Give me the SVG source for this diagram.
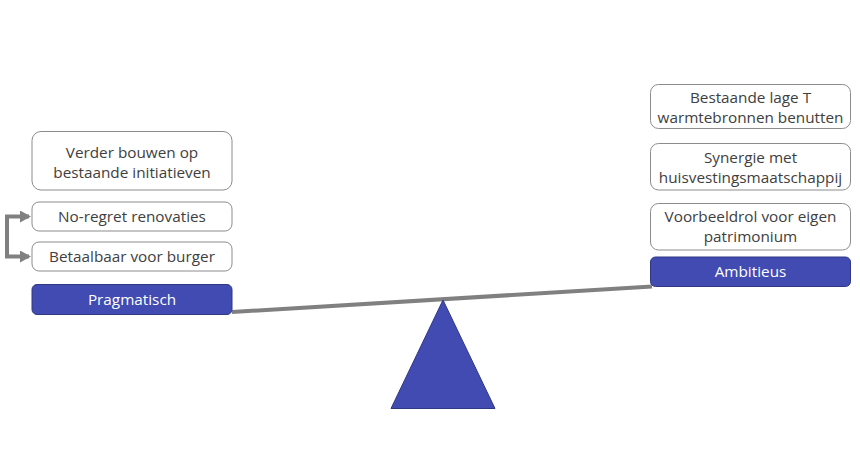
<svg xmlns="http://www.w3.org/2000/svg" width="860" height="455" viewBox="0 0 860 455">
<defs>
<style>
.box{fill:#ffffff;stroke:#8c8c8c;stroke-width:1}
.blue{fill:#414BB2;stroke:#2f3880;stroke-width:1}
.t{font-family:"Open Sans","Noto Sans","Liberation Sans",sans-serif;font-size:15.3px;fill:#404040;text-anchor:middle}
.tw{font-family:"Open Sans","Noto Sans","Liberation Sans",sans-serif;font-size:15.3px;fill:#ffffff;text-anchor:middle}
.conn{fill:none;stroke:#808080;stroke-width:4}
</style>
<marker id="ah" markerWidth="11" markerHeight="12" refX="9" refY="6" orient="auto-start-reverse" markerUnits="userSpaceOnUse">
<path d="M0,0 L11,6 L0,12 Z" fill="#808080"/>
</marker>
</defs>
<rect width="860" height="455" fill="#ffffff"/>
<g id="connectors">
<path class="conn" d="M29,216.5 H7 V256.5 H29" marker-start="url(#ah)" marker-end="url(#ah)"/>
<line x1="232" y1="312" x2="652" y2="286.5" stroke="#808080" stroke-width="4"/>
</g>
<g id="fulcrum">
<polygon points="443,300 495,408.5 391,408.5" fill="#414BB2" stroke="#2f3880" stroke-width="1"/>
</g>
<g id="n-verder">
<rect class="box" x="32" y="131.5" width="200" height="58.5" rx="9"/>
<text class="t" x="132" y="157.5">Verder bouwen op</text>
<text class="t" x="132" y="178">bestaande initiatieven</text>
</g>
<g id="n-noregret">
<rect class="box" x="32" y="202" width="200" height="29" rx="7"/>
<text class="t" x="132" y="221.5">No-regret renovaties</text>
</g>
<g id="n-betaalbaar">
<rect class="box" x="32" y="242" width="200" height="29" rx="7"/>
<text class="t" x="132" y="261.5">Betaalbaar voor burger</text>
</g>
<g id="n-pragmatisch">
<rect class="blue" x="32" y="284.5" width="200" height="30" rx="5"/>
<text class="tw" x="132" y="304.5">Pragmatisch</text>
</g>
<g id="n-bestaande">
<rect class="box" x="650.5" y="84.5" width="200" height="44" rx="8"/>
<text class="t" x="750.5" y="103">Bestaande lage T</text>
<text class="t" x="750.5" y="123">warmtebronnen benutten</text>
</g>
<g id="n-synergie">
<rect class="box" x="650.5" y="143.5" width="200" height="46.5" rx="8"/>
<text class="t" x="750.5" y="162.5">Synergie met</text>
<text class="t" x="750.5" y="183">huisvestingsmaatschappij</text>
</g>
<g id="n-voorbeeldrol">
<rect class="box" x="650.5" y="203.5" width="200" height="46.5" rx="8"/>
<text class="t" x="750.5" y="221.5">Voorbeeldrol voor eigen</text>
<text class="t" x="750.5" y="242">patrimonium</text>
</g>
<g id="n-ambitieus">
<rect class="blue" x="650.5" y="257" width="200" height="29.5" rx="5"/>
<text class="tw" x="750.5" y="276.5">Ambitieus</text>
</g>
</svg>
